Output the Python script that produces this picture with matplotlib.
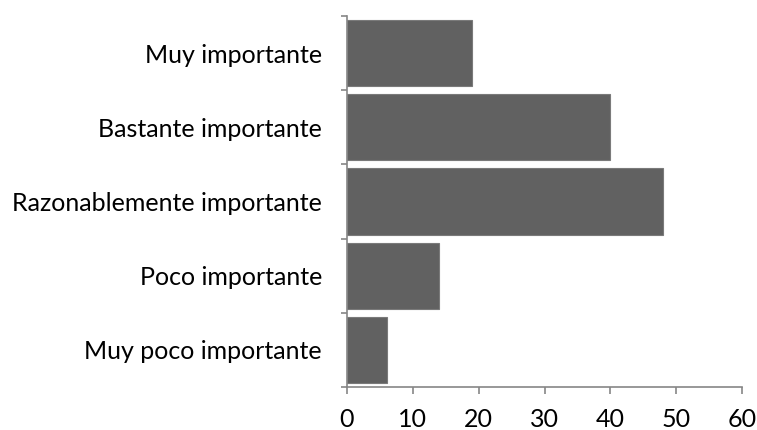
import matplotlib
matplotlib.use("Agg")
import matplotlib.pyplot as plt

categorias = ["Muy poco importante", "Poco importante", "Razonablemente importante",
              "Bastante importante", "Muy importante"]
valores = [6, 14, 48, 40, 19]
xticks = [0, 10, 20, 30, 40, 50, 60]

plt.rcParams['font.family'] = ['Lato', 'DejaVu Sans']
eje = '#868686'

fig = plt.figure(figsize=(7.57, 4.30), dpi=100)
ax = fig.add_axes([347 / 757, 1 - 387 / 430, (742 - 347) / 757, (387 - 16) / 430])

pos = range(len(categorias))
ax.barh(pos, valores, height=0.89, color='#616161', edgecolor='#7a7a7a', linewidth=0.8)

ax.set_xlim(0, 60)
ax.set_ylim(-0.5, len(categorias) - 0.5)
ax.set_xticks(xticks)
ax.set_xticklabels([str(t) for t in xticks])

# ticks del eje y entre categorías
ax.set_yticks([i - 0.5 for i in range(len(categorias) + 1)])
ax.set_yticklabels([])
ax.set_yticks(list(pos), minor=True)
ax.set_yticklabels(categorias, minor=True)
ax.tick_params(axis='y', which='minor', length=0, pad=18, labelsize=18)
ax.tick_params(axis='y', which='major', length=4.5, width=1.2, color=eje, direction='out')
ax.tick_params(axis='x', length=5, width=1.2, color=eje, direction='out', pad=10, labelsize=18)

for lado in ['top', 'right']:
    ax.spines[lado].set_visible(False)
for lado in ['left', 'bottom']:
    ax.spines[lado].set_color(eje)
    ax.spines[lado].set_linewidth(1.2)

fig.savefig('out.png', dpi=100)
